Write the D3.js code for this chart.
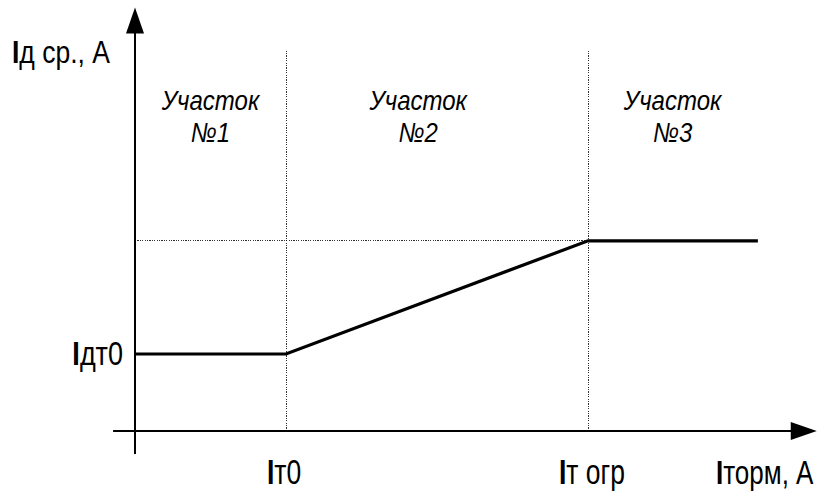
<!DOCTYPE html>
<html><head><meta charset="utf-8">
<script src="https://cdn.jsdelivr.net/npm/d3@7/dist/d3.min.js"></script>
<style>html,body{margin:0;padding:0;background:#fff;}svg{display:block;}</style>
</head><body>
<svg id="c" width="819" height="493"></svg>
<script>
// ---- data ----
const charX = [0, 2, 6, 8.25];          // braking current (relative units)
const charY = [1, 1, 2.47, 2.47];       // differential current (relative units)
const xMarks = [2, 6];                  // It0, It ogr
const xMarkLabels = [["I","т0"], ["I","т огр"]];
const yMarks = [1];
const yMarkLabels = [["I","дт0"]];
const yRefLevel = 2.47;
const regionNames = ["Участок", "Участок", "Участок"];
const regionNums = ["№1", "№2", "№3"];
const regionCenters = [1.0, 3.75, 7.12];
const xAxisLabel = ["I", "торм, А"];
const yAxisLabel = ["I", "д ср., А"];
const xDomain = [-0.29, 9.03];
const yDomain = [-0.3, 5.5];
const guideTop = 4.94;

// ---- scales ----
const x = d3.scaleLinear().domain([0, 1]).range([135, 210.5]);
const y = d3.scaleLinear().domain([0, 1]).range([431, 354]);
const svg = d3.select("#c");
const font = "'Liberation Sans', Arial, sans-serif";

// guides (dotted)
const dot = "1.2,1.2";
xMarks.forEach(v => {
  svg.append("line").attr("x1", x(v)).attr("x2", x(v)).attr("y1", y(guideTop)).attr("y2", y(0))
    .attr("stroke", "#000").attr("stroke-width", 0.8).attr("stroke-dasharray", dot).attr("shape-rendering","crispEdges");
});
svg.append("line").attr("x1", x(0)).attr("x2", x(xMarks[1])).attr("y1", y(yRefLevel)).attr("y2", y(yRefLevel))
  .attr("stroke", "#000").attr("stroke-width", 0.8).attr("stroke-dasharray", dot).attr("shape-rendering","crispEdges");

// axes
svg.append("line").attr("x1", x(xDomain[0])).attr("x2", x(xDomain[1]) - 20).attr("y1", y(0)).attr("y2", y(0))
  .attr("stroke", "#000").attr("stroke-width", 2);
svg.append("line").attr("x1", x(0)).attr("x2", x(0)).attr("y1", y(yDomain[0])).attr("y2", y(yDomain[1]) + 20)
  .attr("stroke", "#000").attr("stroke-width", 2);
// arrow heads
const xt = x(xDomain[1]), yt = y(yDomain[1]);
svg.append("path").attr("d", `M${xt},${y(0)} L${xt-26},${y(0)-9} L${xt-26},${y(0)+9} Z`).attr("fill", "#000");
svg.append("path").attr("d", `M${x(0)},${yt} L${x(0)-9},${yt+26} L${x(0)+9},${yt+26} Z`).attr("fill", "#000");

// characteristic
const line = d3.line().x((d, i) => x(charX[i])).y((d, i) => y(charY[i]));
svg.append("path").attr("d", line(charX)).attr("fill", "none").attr("stroke", "#000").attr("stroke-width", 3.2)
  .attr("stroke-linejoin", "miter");

// label helper (vertically stretched like the reference's tall lettering)
function lab(parts, px, py, anchor, size, sx, sy) {
  const g = svg.append("g").attr("transform", `translate(${px},${py}) scale(${sx},${sy})`);
  const t = g.append("text").attr("x", 0).attr("y", 0).attr("text-anchor", anchor)
    .attr("font-family", font).attr("font-size", size).attr("fill", "#000");
  t.append("tspan").attr("font-weight", "bold").text(parts[0]);
  t.append("tspan").text(parts[1]);
  return t;
}
lab(yAxisLabel, 12, 63, "start", 26, 1.02, 1.18);
yMarks.forEach((v, i) => lab(yMarkLabels[i], 123, y(v) + 11, "end", 27, 1.0, 1.25));
const xLabDx = [-19, -29];
xMarks.forEach((v, i) => lab(xMarkLabels[i], x(v) + xLabDx[i], 484, "start", 27, 0.98, 1.3));
lab(xAxisLabel, 716, 484, "start", 26, 1.0, 1.28);

// region names
regionCenters.forEach((c, i) => {
  [regionNames[i], regionNums[i]].forEach((s, k) => {
    svg.append("g").attr("transform", `translate(${x(c)},${k ? 142 : 110}) scale(1,1.15)`)
      .append("text").attr("text-anchor", "middle")
      .attr("font-family", font).attr("font-style", "italic").attr("font-size", 24).text(s);
  });
});
</script>
</body></html>
